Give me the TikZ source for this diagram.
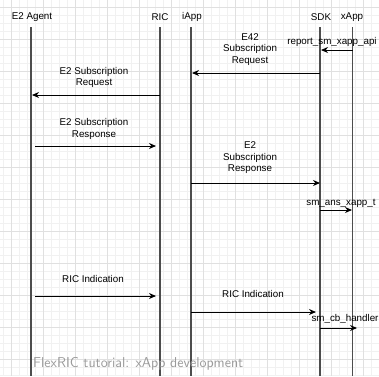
\documentclass[tikz,border=0pt]{standalone}
\usepackage{fontspec}
\setmainfont{Liberation Sans}
\usetikzlibrary{arrows.meta}
\definecolor{gridminor}{HTML}{F1F1F1}
\definecolor{gridmajor}{HTML}{E0E0E0}
\definecolor{lifeline}{HTML}{4D4D4D}
\definecolor{footgray}{HTML}{9A9A9A}
\tikzset{
  head/.style={font=\fontsize{9.8}{11.5}\selectfont, text=black, inner sep=0pt},
  lbl/.style={font=\fontsize{9.8}{11.5}\selectfont, text=black, align=center, inner sep=0pt},
  life/.style={draw=lifeline, line width=1.1pt},
  msg/.style={draw=black, line width=0.9pt, -{Stealth[length=7pt,width=6pt]}},
}
\begin{document}
\begin{tikzpicture}[x=1pt,y=-1pt]
  \useasboundingbox (0,0) rectangle (379,376);
  \fill[white] (0,0) rectangle (379,376);
  % background grid: fine lines every 8, strong lines every 32
  \foreach \gx in {3.7,11.7,...,379} {\draw[gridminor, line width=0.6pt] (\gx,0) -- (\gx,376);}
  \foreach \gy in {-0.7,7.3,...,376} {\draw[gridminor, line width=0.6pt] (0,\gy) -- (379,\gy);}
  \foreach \gx in {11.7,43.7,...,379} {\draw[gridmajor, line width=0.8pt] (\gx,0) -- (\gx,376);}
  \foreach \gy in {7.3,39.3,...,376} {\draw[gridmajor, line width=0.8pt] (0,\gy) -- (379,\gy);}

  % participants
  \node[head] (agent) at (32,17) {E2 Agent};
  \node[head] (ric)   at (160,17) {RIC};
  \node[head] (iapp)  at (192,17) {iApp};
  \node[head] (sdk)   at (321,17) {SDK};
  \node[head] (xapp)  at (352,17) {xApp};

  % lifelines
  \coordinate (agentT) at (31,27);   \coordinate (agentB) at (31,376);
  \coordinate (ricT)   at (160,27);  \coordinate (ricB)   at (160,376);
  \coordinate (iappT)  at (191,27);  \coordinate (iappB)  at (191,376);
  \coordinate (sdkT)   at (320,27);  \coordinate (sdkB)   at (320,376);
  \coordinate (xappT)  at (352.5,27);\coordinate (xappB)  at (352.5,376);
  \foreach \p in {agent,ric,iapp,sdk,xapp} {\draw[life] (\p T) -- (\p B);}

  % message end points
  \coordinate (m1a) at (352.5,50);  \coordinate (m1b) at (321,50);
  \coordinate (m2a) at (320,73);    \coordinate (m2b) at (192,73);
  \coordinate (m3a) at (160,95);    \coordinate (m3b) at (32,95);
  \coordinate (m4a) at (35,146);    \coordinate (m4b) at (156,146);
  \coordinate (m5a) at (191,183);   \coordinate (m5b) at (320,183);
  \coordinate (m6a) at (320,210);   \coordinate (m6b) at (352,210);
  \coordinate (m7a) at (35,296);    \coordinate (m7b) at (156,296);
  \coordinate (m8a) at (191,312);   \coordinate (m8b) at (316,312);
  \coordinate (m9a) at (320,328);   \coordinate (m9b) at (357,328);

  \draw[msg] (m1a) -- (m1b);
  \draw[msg] (m2a) -- (m2b);
  \draw[msg] (m3a) -- (m3b);
  \draw[msg] (m4a) -- (m4b);
  \draw[msg] (m5a) -- (m5b);
  \draw[msg] (m6a) -- (m6b);
  \draw[msg] (m7a) -- (m7b);
  \draw[msg] (m8a) -- (m8b);
  \draw[msg] (m9a) -- (m9b);

  % message labels
  \node[lbl] (l1) at (332,42)    {report\_sm\_xapp\_api};
  \node[lbl] (l2) at (250,49.5)  {E42\\Subscription\\Request};
  \node[lbl] (l3) at (94,77.5)   {E2 Subscription\\Request};
  \node[lbl] (l4) at (94,129)    {E2 Subscription\\Response};
  \node[lbl] (l5) at (250,158)   {E2\\Subscription\\Response};
  \node[lbl] (l6) at (341,203)   {sm\_ans\_xapp\_t};
  \node[lbl] (l7) at (93,279)    {RIC Indication};
  \node[lbl] (l8) at (253,294)   {RIC Indication};
  \node[lbl] (l9) at (345,319)   {sm\_cb\_handler};

  % footer
  \node[anchor=base west, inner sep=0pt, text=footgray,
        font=\sffamily\fontsize{14.3}{17}\selectfont] (foot) at (33,367)
        {FlexRIC tutorial: xApp development};
\end{tikzpicture}
\end{document}
